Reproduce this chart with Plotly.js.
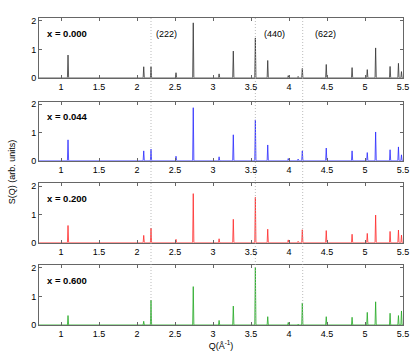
<!DOCTYPE html>
<html>
<head>
<meta charset="utf-8">
<script src="https://cdn.plot.ly/plotly-3.0.1.min.js"></script>
<style>
  html, body { margin: 0; padding: 0; background: #fff; }
  #chart { width: 416px; height: 358px; }
</style>
</head>
<body>
<div id="chart"></div>
<script>
// peak positions, Q (1/Angstrom)
const peakQ = [1.092, 2.088, 2.184, 2.513, 2.74, 3.08, 3.267, 3.557, 3.72, 3.99, 4.12, 4.175, 4.49, 4.83, 5.03, 5.14, 5.33, 5.44, 5.48];

// peak heights for each composition
const peaks000 = [0.80, 0.39, 0.39, 0.18, 1.93, 0.14, 0.94, 1.40, 0.61, 0.08, 0.05, 0.33, 0.47, 0.36, 0.29, 1.05, 0.40, 0.51, 0.22];
const peaks044 = [0.74, 0.35, 0.41, 0.16, 1.88, 0.14, 0.92, 1.45, 0.56, 0.08, 0.06, 0.35, 0.45, 0.35, 0.29, 1.02, 0.39, 0.49, 0.21];
const peaks200 = [0.61, 0.26, 0.52, 0.12, 1.74, 0.14, 0.83, 1.61, 0.48, 0.10, 0.05, 0.46, 0.43, 0.30, 0.33, 0.98, 0.40, 0.45, 0.27];
const peaks600 = [0.33, 0.13, 0.87, 0.02, 1.34, 0.16, 0.66, 2.01, 0.29, 0.09, 0.03, 0.77, 0.29, 0.27, 0.44, 0.81, 0.41, 0.33, 0.49];

const panelLabels = ['x = 0.000', 'x = 0.044', 'x = 0.200', 'x = 0.600'];
const panelColors = ['#333333', '#2a2aff', '#ff2a2a', '#22a822'];

// reflections marked with dotted lines
const reflQ = [2.184, 3.557, 4.18];
const reflLabels = ['(222)', '(440)', '(622)'];
const reflLabelQ = [2.22, 3.64, 4.31];

const xRange = [0.71, 5.5];
const yRange = [0, 2.1];
const halfWidth = 0.008;

// turn a list of peaks into a spiky line trace
function peakTrace(heights, color, i) {
  const x = [xRange[0]];
  const y = [0];
  peakQ.forEach((q, k) => {
    x.push(q - halfWidth, q, q + halfWidth);
    y.push(0, heights[k], 0);
  });
  x.push(xRange[1]);
  y.push(0);
  const n = i === 0 ? '' : String(i + 1);
  return {
    x: x,
    y: y,
    xaxis: 'x' + n,
    yaxis: 'y' + n,
    type: 'scatter',
    mode: 'lines',
    line: { color: color, width: 0.8 },
    hoverinfo: 'skip',
    showlegend: false
  };
}

const allPeaks = [peaks000, peaks044, peaks200, peaks600];
const data = allPeaks.map((h, i) => peakTrace(h, panelColors[i], i));

const domains = [[0.805, 1], [0.535, 0.728], [0.268, 0.461], [0, 0.196]];

const font = { family: 'Liberation Sans, Arial, sans-serif', size: 9, color: '#000' };

const layout = {
  width: 416,
  height: 358,
  margin: { l: 39, r: 13, t: 18, b: 33 },
  paper_bgcolor: '#fff',
  plot_bgcolor: '#fff',
  font: font,
  showlegend: false,
  shapes: [],
  annotations: []
};

domains.forEach((d, i) => {
  const n = i === 0 ? '' : String(i + 1);
  layout['xaxis' + n] = {
    domain: [0, 1],
    anchor: 'y' + n,
    range: xRange,
    tickvals: [1, 1.5, 2, 2.5, 3, 3.5, 4, 4.5, 5, 5.5],
    ticktext: ['1', '1.5', '2', '2.5', '3', '3.5', '4', '4.5', '5', '5.5'],
    ticks: 'inside',
    ticklen: 3,
    tickcolor: '#666',
    showline: true,
    linecolor: '#666',
    linewidth: 1,
    mirror: 'ticks',
    showgrid: false,
    zeroline: false,
    tickfont: font
  };
  layout['yaxis' + n] = {
    domain: d,
    anchor: 'x' + n,
    range: yRange,
    tickvals: [0, 1, 2],
    ticks: 'inside',
    ticklen: 3,
    tickcolor: '#666',
    showline: true,
    linecolor: '#666',
    linewidth: 1,
    mirror: 'ticks',
    showgrid: false,
    zeroline: false,
    tickfont: font
  };
  layout.annotations.push({
    xref: 'x' + n + ' domain',
    yref: 'y' + n + ' domain',
    x: 0.017,
    y: 0.74,
    xanchor: 'left',
    yanchor: 'middle',
    text: '<b>' + panelLabels[i] + '</b>',
    showarrow: false,
    font: { family: font.family, size: 9.5, color: '#000' }
  });
});

layout.xaxis4.title = { text: 'Q(Å<sup>-1</sup>)', font: font, standoff: 3 };

// dotted reflection lines through all panels
reflQ.forEach(q => {
  layout.shapes.push({
    type: 'line',
    xref: 'x',
    yref: 'paper',
    x0: q,
    x1: q,
    y0: 0,
    y1: 1,
    line: { color: '#aaaaaa', width: 0.8, dash: '1px,2px' }
  });
});

reflLabels.forEach((t, i) => {
  layout.annotations.push({
    xref: 'x',
    yref: 'y domain',
    x: reflLabelQ[i],
    y: 0.74,
    xanchor: 'left',
    yanchor: 'middle',
    text: t,
    showarrow: false,
    font: font
  });
});

layout.annotations.push({
  xref: 'paper',
  yref: 'paper',
  x: -0.075,
  y: 0.5,
  xanchor: 'center',
  yanchor: 'middle',
  textangle: -90,
  text: 'S(Q) (arb. units)',
  showarrow: false,
  font: font
});

Plotly.newPlot('chart', data, layout, { displayModeBar: false, staticPlot: true });
</script>
</body>
</html>
